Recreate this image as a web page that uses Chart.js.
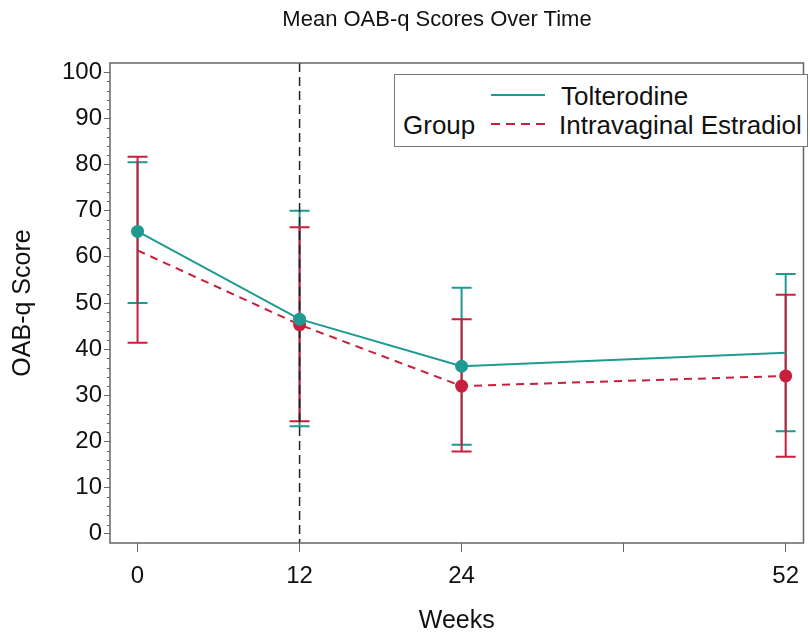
<!DOCTYPE html>
<html lang="en">
<head>
<meta charset="UTF-8">
<title>Mean OAB-q Scores Over Time</title>
<script src="https://cdn.jsdelivr.net/npm/chart.js@4.4.1/dist/chart.umd.min.js"></script>
<style>
    html, body { margin: 0; padding: 0; background: #fff; }
    body {
        width: 810px; height: 640px; position: relative; overflow: hidden;
        font-family: 'Liberation Sans', Arial, sans-serif; color: #111;
    }
    #wrap { position: absolute; left: 0; top: 0; width: 810px; height: 640px; }
    .title {
        position: absolute; top: 6px; left: 0; width: 874px; line-height: 26px;
        text-align: center; font-size: 22px;
    }
    .legend {
        position: absolute; left: 394px; top: 74px; width: 414px; height: 73px;
        border: 1.5px solid #777; box-sizing: border-box; background: #fff;
        font-size: 26px; line-height: 30px;
    }
    .legend span, .legend svg { position: absolute; white-space: nowrap; }
</style>
</head>
<body>
<div id="wrap"><canvas id="chart" width="810" height="640"></canvas></div>
<div class="title">Mean OAB-q Scores Over Time</div>
<div class="legend">
    <svg style="left:96px;top:17px" width="56" height="6"><line x1="0" y1="3" x2="54" y2="3" stroke="#1f9a91" stroke-width="2.2"/></svg>
    <span style="left:166px;top:6px">Tolterodine</span>
    <span style="left:8px;top:35px">Group</span>
    <svg style="left:96px;top:46px" width="56" height="6"><line x1="0" y1="3" x2="54" y2="3" stroke="#c8203c" stroke-width="2.2" stroke-dasharray="9,6"/></svg>
    <span style="left:164px;top:35px">Intravaginal Estradiol</span>
</div>

<script>
// week labels (slot 3 is an unlabelled tick between 24 and 52)
const weekLabels = ['0', '12', '24', '', '52'];

// Tolterodine: mean and error bar limits
const tolMean  = [65.5, 46.5, 36.3, null, 39.2];
const tolLower = [50.0, 23.3, 19.3, null, 22.2];
const tolUpper = [80.5, 70.0, 53.3, null, 56.3];

// Intravaginal Estradiol
const estMean  = [61.4, 45.3, 32.0, null, 34.2];
const estLower = [41.4, 24.4, 17.8, null, 16.7];
const estUpper = [81.7, 66.4, 46.5, null, 51.8];

const yTicks = [0, 10, 20, 30, 40, 50, 60, 70, 80, 90, 100];
const refWeek = 1; // dashed reference line at week 12

const teal = '#1f9a91';
const red = '#c8203c';

function toPoints(arr) {
    const pts = [];
    arr.forEach((v, i) => { if (v !== null) pts.push({ x: i, y: v }); });
    return pts;
}

const overlay = {
    id: 'overlay',
    beforeDatasetsDraw(chart) {
        const ctx = chart.ctx;
        const xs = chart.scales.x, ys = chart.scales.y;
        const a = chart.chartArea;
        ctx.save();

        // error bars
        const bars = [[tolLower, tolUpper, teal], [estLower, estUpper, red]];
        bars.forEach(([lo, hi, col]) => {
            ctx.strokeStyle = col;
            ctx.lineWidth = 2;
            lo.forEach((l, i) => {
                if (l === null) return;
                const x = xs.getPixelForValue(i);
                const y1 = ys.getPixelForValue(l), y2 = ys.getPixelForValue(hi[i]);
                ctx.beginPath();
                ctx.moveTo(x, y1); ctx.lineTo(x, y2);
                ctx.moveTo(x - 10, y1); ctx.lineTo(x + 10, y1);
                ctx.moveTo(x - 10, y2); ctx.lineTo(x + 10, y2);
                ctx.stroke();
            });
        });

        // reference line
        const rx = xs.getPixelForValue(refWeek);
        ctx.strokeStyle = '#222';
        ctx.lineWidth = 1.5;
        ctx.setLineDash([9, 5]);
        ctx.beginPath();
        ctx.moveTo(rx, a.top); ctx.lineTo(rx, a.bottom);
        ctx.stroke();
        ctx.setLineDash([]);

        ctx.restore();
    },
    afterDraw(chart) {
        const ctx = chart.ctx;
        const ys = chart.scales.y;
        const a = chart.chartArea;
        ctx.save();
        ctx.strokeStyle = '#666';
        ctx.lineWidth = 1.5;
        ctx.strokeRect(a.left, a.top, a.right - a.left, a.bottom - a.top);
        // minor y ticks
        ctx.lineWidth = 1;
        ctx.beginPath();
        for (let v = 0; v <= 100; v += 2) {
            if (v % 10 === 0) continue;
            const y = Math.round(ys.getPixelForValue(v)) + 0.5;
            ctx.moveTo(a.left - 3, y); ctx.lineTo(a.left, y);
        }
        ctx.stroke();
        ctx.restore();
    }
};

new Chart(document.getElementById('chart'), {
    type: 'line',
    data: {
        datasets: [{
            label: 'Tolterodine',
            data: toPoints(tolMean),
            borderColor: teal,
            backgroundColor: teal,
            borderWidth: 2,
            pointRadius: [6.5, 6.5, 6.5, 0],
            pointBorderWidth: 0,
            tension: 0
        }, {
            label: 'Intravaginal Estradiol',
            data: toPoints(estMean),
            borderColor: red,
            backgroundColor: red,
            borderWidth: 2,
            borderDash: [8, 6],
            pointRadius: [0, 6.5, 6.5, 6.5],
            pointBorderWidth: 0,
            tension: 0
        }]
    },
    options: {
        responsive: false,
        animation: false,
        layout: { padding: { top: 63, left: 0, right: 0, bottom: 0 } },
        plugins: { legend: { display: false }, tooltip: { enabled: false } },
        scales: {
            x: {
                type: 'linear',
                min: -0.17,
                max: 4.11,
                afterBuildTicks: s => { s.ticks = weekLabels.map((_, i) => ({ value: i })); },
                afterFit: s => { s.height = 97; },
                ticks: {
                    callback: v => weekLabels[v],
                    font: { family: 'Liberation Sans', size: 24 },
                    color: '#111',
                    padding: 10,
                    maxRotation: 0
                },
                grid: { drawOnChartArea: false, tickLength: 9, color: '#666', lineWidth: 1 },
                border: { display: false },
                title: {
                    display: true, text: 'Weeks', color: '#111',
                    font: { family: 'Liberation Sans', size: 25 },
                    padding: { top: 4 }
                }
            },
            y: {
                min: -2,
                max: 102,
                afterBuildTicks: s => { s.ticks = yTicks.map(v => ({ value: v })); },
                afterFit: s => { s.width = 110; },
                ticks: {
                    font: { family: 'Liberation Sans', size: 24 },
                    color: '#111',
                    padding: 2
                },
                grid: { drawOnChartArea: false, tickLength: 6, color: '#666', lineWidth: 1 },
                border: { display: false },
                title: {
                    display: true, text: 'OAB-q Score', color: '#111',
                    font: { family: 'Liberation Sans', size: 25 },
                    padding: { top: 8, bottom: 0 }
                }
            }
        }
    },
    plugins: [overlay]
});
</script>
</body>
</html>
